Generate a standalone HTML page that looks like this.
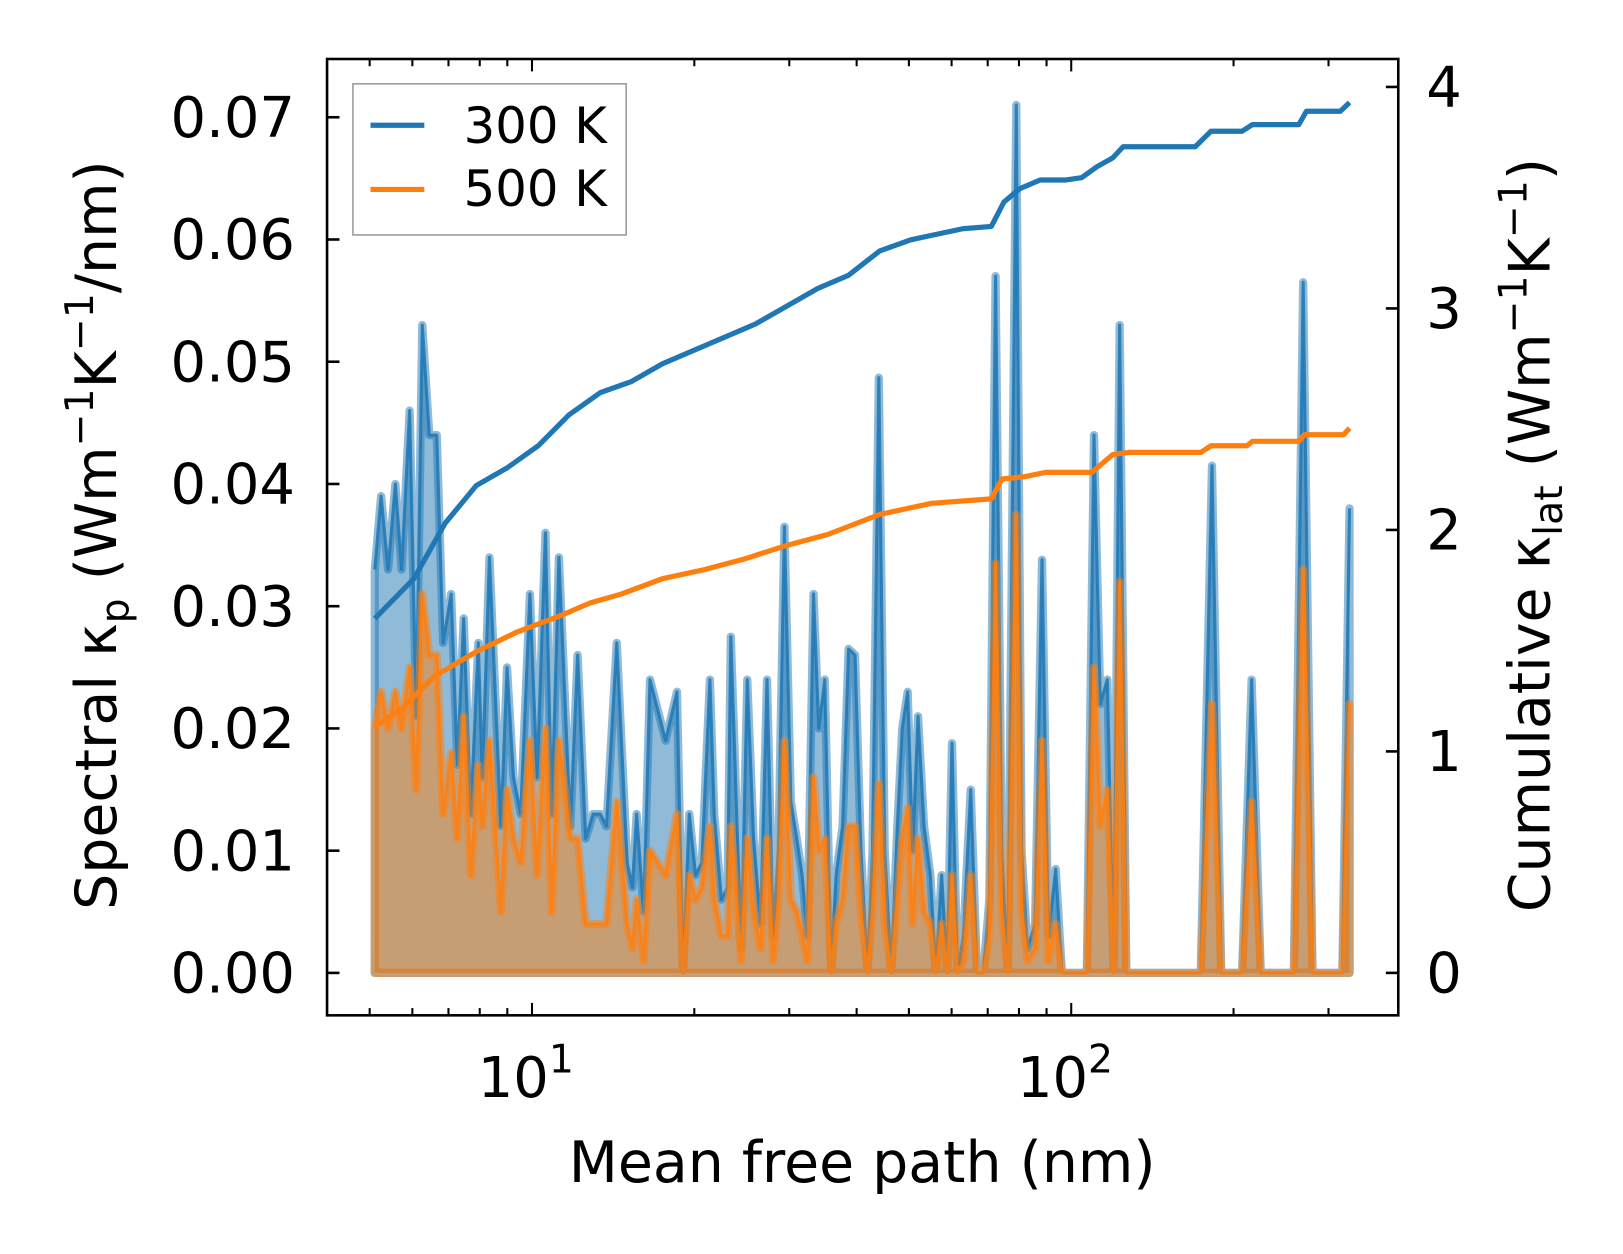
<!DOCTYPE html>
<html><head><meta charset="utf-8"><style>
html,body{margin:0;padding:0;background:#fff;}
svg text{font-family:"DejaVu Sans","Liberation Sans",sans-serif;fill:#000;}
</style></head><body>
<svg id="chart" width="1623" height="1254" viewBox="0 0 1623 1254" xmlns="http://www.w3.org/2000/svg" style="position:absolute;left:0;top:0">
<g transform="scale(1.035)">
<g id="plot"></g>
<g id="axes"></g>
<text x="833" y="1142" font-size="55" text-anchor="middle">Mean free path (nm)</text>
<text transform="translate(112,517) rotate(-90)" font-size="55" text-anchor="middle">Spectral κ<tspan font-size="38" dy="12">p</tspan><tspan dy="-12"> (Wm</tspan><tspan font-size="38" dy="-22">−1</tspan><tspan dy="22">K</tspan><tspan font-size="38" dy="-22">−1</tspan><tspan dy="22">/nm)</tspan></text>
<text transform="translate(1497,517) rotate(-90)" font-size="55" text-anchor="middle">Cumulative κ<tspan font-size="38" dy="12">lat</tspan><tspan dy="-12"> (Wm</tspan><tspan font-size="38" dy="-22">−1</tspan><tspan dy="22">K</tspan><tspan font-size="38" dy="-22">−1</tspan><tspan dy="22">)</tspan></text>
<g>
<rect x="341" y="81" width="264" height="146" fill="#fff" fill-opacity="0.8" stroke="#999" stroke-width="1.5"/>
<line x1="358" x2="410" y1="121" y2="121" stroke="#1f77b4" stroke-width="5"/>
<text x="448" y="138" font-size="48">300 K</text>
<line x1="358" x2="410" y1="183" y2="183" stroke="#ff7f0e" stroke-width="5"/>
<text x="448" y="199" font-size="48">500 K</text>
</g>
</g>
</svg>
<script>
const specMfp = [5.11,5.25,5.41,5.58,5.73,5.93,6.10,6.26,6.45,6.66,6.84,7.08,7.27,7.47,7.70,7.95,8.09,8.34,8.76,8.99,9.24,9.53,9.91,10.22,10.59,10.88,11.22,11.78,12.15,12.58,12.98,13.39,13.74,14.36,15.02,15.35,15.63,16.11,16.55,17.69,18.57,19.05,19.58,20.10,20.65,21.38,21.78,22.45,23.05,23.37,24.43,25.07,25.76,26.55,27.28,28.00,28.64,29.38,30.20,30.97,31.69,32.42,33.27,34.03,34.91,35.87,36.64,37.67,38.65,39.72,40.74,41.88,42.8,43.97,45.1,46.34,47.6,48.6,49.75,50.8,52.0,53.35,54.8,56.1,57.5,58.9,60.1,61.5,63.1,65.1,66.9,68.7,70.5,72.4,74.3,76.3,79.1,80.9,83.0,85.7,88.3,90.7,93.6,96.1,102.2,106.9,110.2,113.2,116.7,119.9,123.0,126.5,173.9,182.4,189.7,207.4,216.0,224.6,258.7,269.2,280.2,318.3,328.2];
const spec300 = [.033,.039,.033,.040,.033,.046,.021,.053,.044,.044,.027,.031,.017,.029,.013,.027,.016,.034,.012,.025,.016,.013,.031,.016,.036,.013,.034,.012,.026,.011,.013,.013,.012,.027,.009,.007,.013,.005,.024,.019,.023,0,.013,.008,.009,.024,.013,.006,.007,.0275,.002,.024,.011,.004,.024,.003,.010,.0365,.014,.011,.008,.003,.031,.020,.024,0,.008,.012,.0265,.026,.010,0,.010,.0487,.010,0,.012,.020,.023,.010,.021,.012,.008,0,.008,0,.0188,0,.003,.015,0,0,.006,.057,.010,0,.071,.010,.002,.004,.0338,.003,.0085,0,0,0,.044,.022,.024,0,.053,0,0,.0415,0,0,.024,0,0,.0565,0,0,.038];
const spec500 = [.020,.023,.020,.023,.020,.025,.015,.031,.026,.026,.013,.018,.011,.021,.008,.017,.012,.019,.005,.015,.011,.009,.019,.008,.020,.005,.019,.011,.011,.004,.004,.004,.004,.014,.004,.002,.006,.001,.010,.008,.013,0,.008,.006,.007,.012,.006,.003,.003,.012,.001,.011,.005,.002,.011,.001,.006,.019,.006,.005,.003,.001,.016,.010,.011,0,.004,.006,.012,.012,.005,0,.005,.0155,.004,0,.006,.011,.0135,.004,.011,.005,.004,0,.004,0,.008,0,.001,.008,0,0,.003,.0335,.005,0,.0375,.005,.001,.002,.019,.001,.004,0,0,0,.025,.012,.015,0,.032,0,0,.022,0,0,.014,0,0,.033,0,0,.022];
const cum300Mfp = [5.11,6.04,6.90,7.88,8.99,10.27,11.72,13.39,15.29,17.46,19.93,22.75,25.97,29.66,33.86,38.65,44.15,50.4,55.07,62.9,71.1,75.0,80.2,87.6,97.8,104.5,111.7,119.4,124.8,169.8,181.6,207.4,216.8,264.3,272.9,315.5,328.2];
const cum300 = [1.60,1.78,2.03,2.20,2.28,2.38,2.52,2.62,2.67,2.75,2.81,2.87,2.93,3.01,3.09,3.15,3.26,3.31,3.33,3.36,3.37,3.48,3.54,3.58,3.58,3.59,3.64,3.68,3.73,3.73,3.80,3.80,3.83,3.83,3.89,3.89,3.93];
const cum500Mfp = [5.11,5.78,6.60,7.88,9.40,11.22,12.81,14.62,17.46,20.83,24.86,29.66,35.4,44.15,50.4,55.07,71.1,74.4,81.9,89.6,109.2,119.4,127.5,173.9,181.6,211.8,216.8,264.3,270.4,319.9,328.2];
const cum500 = [1.11,1.20,1.34,1.45,1.54,1.61,1.67,1.71,1.78,1.82,1.87,1.93,1.98,2.07,2.10,2.12,2.14,2.23,2.24,2.26,2.26,2.34,2.35,2.35,2.38,2.38,2.40,2.40,2.43,2.43,2.46];
const leftTicks = ["0.00","0.01","0.02","0.03","0.04","0.05","0.06","0.07"];
const rightTicks = ["0","1","2","3","4"];

const X0=316,X1=1351,Y0=57,Y1=981;
const xs = v => 514 + 521*(Math.log10(v)-1);
const yl = v => 940 - v*11810;
const yr = v => 940 - v*214;
const NS="http://www.w3.org/2000/svg";
function mk(tag, attrs, parent){const e=document.createElementNS(NS,tag);for(const k in attrs)e.setAttribute(k,attrs[k]);parent.appendChild(e);return e;}
const plot=document.getElementById('plot'), axes=document.getElementById('axes');
function series(vals, color, name){
  let d=`M${xs(specMfp[0])},${yl(0)}`;
  specMfp.forEach((m,i)=>{d+=` L${xs(m).toFixed(1)},${yl(vals[i]).toFixed(1)}`;});
  d+=` L${xs(specMfp[specMfp.length-1])},${yl(0)} Z`;
  const f=mk('path',{d:d,fill:color,'fill-opacity':0.5,stroke:color,'stroke-opacity':0.5,'stroke-width':8,'stroke-linejoin':'round'},plot);
  
  
  const pts=specMfp.map((m,i)=>xs(m).toFixed(1)+','+yl(vals[i]).toFixed(1)).join(' ');
  const l=mk('polyline',{points:pts,fill:'none',stroke:color,'stroke-width':3,'stroke-opacity':0.85,'stroke-linejoin':'round'},plot);
  
  
}
series(spec300,'#1f77b4','spectral-300k');
series(spec500,'#ff7f0e','spectral-500k');
function cum(mf, vals, color, name){
  const pts=mf.map((m,i)=>xs(m).toFixed(1)+','+yr(vals[i]).toFixed(1)).join(' ');
  const l=mk('polyline',{points:pts,fill:'none',stroke:color,'stroke-width':5,'stroke-linejoin':'round'},plot);
  
  
}
cum(cum300Mfp,cum300,'#1f77b4','cumulative-300k');
cum(cum500Mfp,cum500,'#ff7f0e','cumulative-500k');

const fr=mk('rect',{x:X0,y:Y0,width:X1-X0,height:Y1-Y0,fill:'none',stroke:'#000','stroke-width':2.5},axes);


leftTicks.forEach(t=>{const y=yl(parseFloat(t));
  mk('line',{x1:X0,x2:X0+12,y1:y,y2:y,stroke:'#000','stroke-width':2.5},axes);
  const tx=mk('text',{x:X0-31,y:y+19,'font-size':54,'text-anchor':'end'},axes);tx.textContent=t;
  
  
});
rightTicks.forEach(t=>{const y=yr(parseFloat(t));
  mk('line',{x1:X1-12,x2:X1,y1:y,y2:y,stroke:'#000','stroke-width':2.5},axes);
  const tx=mk('text',{x:X1+27,y:y+19,'font-size':54},axes);tx.textContent=t;
  
  
});
[5,6,7,8,9,10,20,30,40,50,60,70,80,90,100,200,300].forEach(v=>{const x=xs(v);const L=(v===10||v===100)?12:7;
  mk('line',{x1:x,x2:x,y1:Y1,y2:Y1-L,stroke:'#000','stroke-width':2},axes);
  mk('line',{x1:x,x2:x,y1:Y0,y2:Y0+L,stroke:'#000','stroke-width':2},axes);
});
[["1",10],["2",100]].forEach(([e,v])=>{const tx=mk('text',{x:xs(v)-6,y:1060,'font-size':54,'text-anchor':'middle'},axes);
  tx.innerHTML='10<tspan font-size="38" dy="-24">'+e+'</tspan>';
  
  
});
</script>
</body></html>
